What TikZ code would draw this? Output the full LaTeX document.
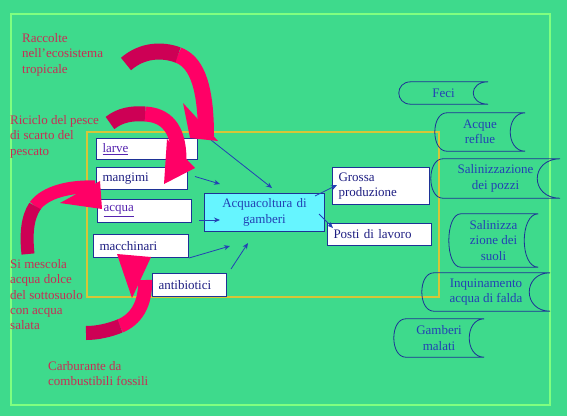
\documentclass[tikz,border=0pt]{standalone}
\usepackage{fontspec}
\setmainfont{Liberation Serif}
\usetikzlibrary{arrows.meta}

\definecolor{bggreen}{RGB}{62,218,140}
\definecolor{framegreen}{RGB}{128,255,128}
\definecolor{frameyellow}{RGB}{214,198,56}
\definecolor{boxblue}{RGB}{30,50,150}
\definecolor{navytext}{RGB}{30,30,130}
\definecolor{linktext}{RGB}{85,35,175}
\definecolor{arrowblue}{RGB}{35,65,180}
\definecolor{hotpink}{RGB}{255,0,102}
\definecolor{darkpink}{RGB}{205,0,85}
\definecolor{notered}{RGB}{200,45,85}
\definecolor{aqua}{RGB}{102,245,255}

\begin{document}
\begin{tikzpicture}[
    x=1pt, y=-1pt,
    note/.style={
      anchor=north west,
      inner sep=0pt,
      align=left,
      text=notered,
      font=\fontsize{13}{15.4}\selectfont
    },
    item/.style={
      draw=boxblue,
      fill=white,
      line width=1pt,
      anchor=north west,
      inner xsep=6pt,
      inner ysep=0pt,
      align=left,
      text=navytext,
      font=\fontsize{13}{15.4}\selectfont
    },
    link/.style={item, text=linktext},
    core/.style={item, fill=aqua, align=center, text=arrowblue},
    store/.style={
      inner sep=0pt,
      align=center,
      text=arrowblue,
      font=\fontsize{13}{15.4}\selectfont
    },
    outline/.style={draw=boxblue, line width=0.8pt},
    flow/.style={draw=arrowblue, line width=0.8pt, -{Stealth[length=6pt,width=5pt]}},
    band/.style={line width=#1, draw=hotpink},
    redhead/.style={fill=hotpink}
  ]
    \useasboundingbox (0,0) rectangle (567,416);
    \fill[bggreen] (0,0) rectangle (567,416);

    % frames
    \draw[framegreen, line width=2.5pt] (11,14) rectangle (550,405);
    \draw[frameyellow, line width=2.5pt] (87,132) rectangle (439,297);

    % inputs
    \node[link, text width=89pt, minimum height=21pt] (larve) at (96,138) {\underline{larve}};
    \node[item, text width=79pt, minimum height=22pt] (mangimi) at (96,167) {mangimi};
    \node[link, text width=82pt, minimum height=23pt] (acqua) at (97,199) {\underline{acqua}};
    \node[item, text width=83pt, minimum height=23pt] (macchinari) at (93,234) {macchinari};
    \node[item, text width=62pt, minimum height=23pt] (antibiotici) at (152,273) {antibiotici};

    \node[core, text width=108pt, minimum height=38pt] (acq) at (204,193) {Acquacoltura di\\gamberi};

    % outputs
    \node[item, text width=85pt, minimum height=37pt] (grossa) at (332,167) {Grossa\\produzione};
    \node[item, text width=92pt, minimum height=22pt] (posti) at (327,223) {Posti di lavoro};

    % impacts
    \node[store, minimum width=89pt, minimum height=22pt] (feci) at (443.5,93) {Feci};
    \node[store, minimum width=90pt, minimum height=38pt] (reflue) at (480,132) {Acque\\reflue};
    \node[store, minimum width=129pt, minimum height=39pt] (pozzi) at (495.5,178.5) {Salinizzazione\\dei pozzi};
    \node[store, minimum width=89pt, minimum height=53pt] (suoli) at (493.5,240.5) {Salinizza\\zione dei\\suoli};
    \node[store, minimum width=128pt, minimum height=38pt] (falda) at (486,292) {Inquinamento\\acqua di falda};
    \node[store, minimum width=90pt, minimum height=38pt] (malati) at (439,338) {Gamberi\\malati};

    \foreach \n/\dep in {feci/15, reflue/15, pozzi/23, suoli/14, falda/21, malati/15}
      \draw[outline] ([xshift=12pt]\n.north west) -- (\n.north east)
        .. controls ([xshift={-1.33*\dep*1pt}]\n.north east) and ([xshift={-1.33*\dep*1pt}]\n.south east) .. (\n.south east)
        -- ([xshift=12pt]\n.south west)
        .. controls ([xshift=-4pt]\n.south west) and ([xshift=-4pt]\n.north west) .. ([xshift=12pt]\n.north west);

    % blue arrows
    \draw[flow] ([xshift=13pt,yshift=-2pt]larve.north east) -- ([xshift=68pt,yshift=5pt]acq.north west);
    \draw[flow] ([xshift=7pt,yshift=2pt]mangimi.east) -- ([xshift=16pt,yshift=9pt]acq.north west);
    \draw[flow] ([xshift=7pt,yshift=-9pt]acqua.east) -- ([xshift=16pt,yshift=-27pt]acq.north west);
    \draw[flow] (macchinari.south east) -- ([xshift=26pt,yshift=-14pt]acq.south west);
    \draw[flow] ([xshift=4pt,yshift=4pt]antibiotici.north east) -- ([xshift=44pt,yshift=-11pt]acq.south west);
    \draw[flow] ([xshift=-10pt,yshift=-3pt]acq.north east) -- ([xshift=5pt,yshift=-18pt]grossa.north west);
    \draw[flow] ([xshift=-6pt,yshift=-21pt]acq.north east) -- ([xshift=6pt,yshift=-5pt]posti.north west);

    % red curved arrows
    \draw[band=16pt] (178,55) .. controls (194,61) and (206,80) .. (206,136);
    \draw[band=16pt, draw=darkpink] (126,64) .. controls (142,50) and (162,49) .. (178,55);
    \fill[redhead] (183,103) -- (218,141) -- (190,138) -- cycle;

    \draw[band=15pt] (145,114) .. controls (165,115) and (179,127) .. (179,160);
    \draw[band=15pt, draw=darkpink] (110,123) .. controls (120,115) and (132,113) .. (145,114);
    \fill[redhead] (167,139) -- (195,168) -- (164,184) -- cycle;

    \draw[band=13pt] (35,206) .. controls (45,192) and (70,186) .. (95,187);
    \draw[band=13pt, draw=darkpink] (28,254) .. controls (26,235) and (27,218) .. (35,206);
    \fill[redhead] (100,181) -- (102,209) -- (60,203) -- cycle;

    \draw[band=14pt] (120,326) .. controls (135,320) and (146,305) .. (145,280);
    \draw[band=14pt, draw=darkpink] (86,333) .. controls (98,333) and (110,330) .. (120,326);
    \fill[redhead] (117,254) -- (151,257) -- (132,298) -- cycle;

    % notes
    \node[note] (raccolte) at (22,33) {Raccolte\\nell’ecosistema\\tropicale};
    \node[note] (riciclo) at (10,115) {Riciclo del pesce\\di scarto del\\pescato};
    \node[note] (mescola) at (10,259) {Si mescola\\acqua dolce\\del sottosuolo\\con acqua\\salata};
    \node[note] (carburante) at (48,361) {Carburante da\\combustibili fossili};
  \end{tikzpicture}
\end{document}
